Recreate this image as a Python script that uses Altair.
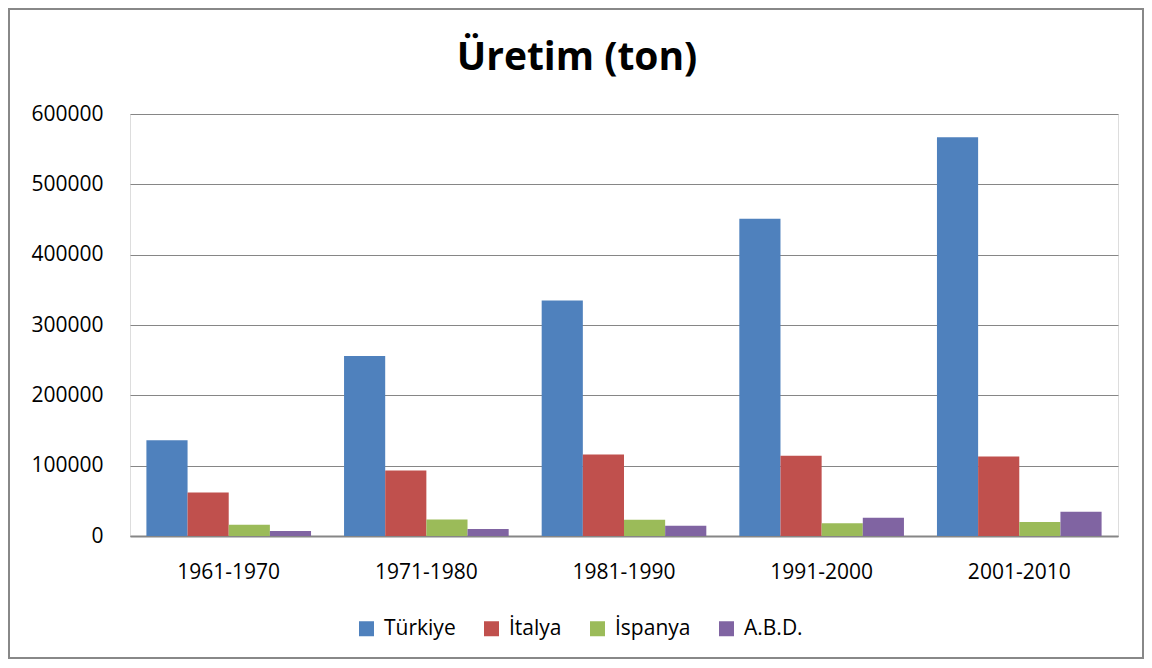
import altair as alt
import pandas as pd

periods = ["1961-1970", "1971-1980", "1981-1990", "1991-2000", "2001-2010"]
series = ["Türkiye", "İtalya", "İspanya", "A.B.D."]
colors = ["#4F81BD", "#C0504D", "#9BBB59", "#8064A2"]

turkiye = [136000, 256000, 335000, 451000, 567000]
italya = [62000, 93000, 116000, 114000, 113000]
ispanya = [16000, 23500, 23000, 18000, 20000]
abd = [7000, 10000, 14500, 26000, 34500]
y_ticks = [0, 100000, 200000, 300000, 400000, 500000, 600000]

rows = []
for i, p in enumerate(periods):
    for s, vals in zip(series, [turkiye, italya, ispanya, abd]):
        rows.append({"period": p, "series": s, "value": vals[i]})
df = pd.DataFrame(rows)

FONT = "Open Sans"
W, H = 988, 422
PL, PT = 122, 106
TOTW, TOTH = 1136, 651

bars = alt.Chart(df).mark_bar().encode(
    x=alt.X(
        "period:N",
        sort=periods,
        scale=alt.Scale(paddingInner=0.167, paddingOuter=0.083),
        axis=alt.Axis(
            title=None, labelAngle=0, labelFont=FONT, labelFontSize=21,
            labelColor="#000000", labelPadding=25, ticks=False,
            domainColor="#868686", domainWidth=2, grid=False,
        ),
    ),
    xOffset=alt.XOffset("series:N", sort=series),
    y=alt.Y(
        "value:Q",
        scale=alt.Scale(domain=[0, 600000], nice=False),
        axis=alt.Axis(
            title=None, values=y_ticks, format="d", grid=True,
            gridColor="#868686", gridWidth=1.2, ticks=False, domain=False,
            labelFont=FONT, labelFontSize=21, labelColor="#000000",
            labelPadding=27,
        ),
    ),
    color=alt.Color(
        "series:N",
        sort=series,
        scale=alt.Scale(domain=series, range=colors),
        legend=alt.Legend(
            title=None, orient="none", direction="horizontal",
            legendX=226, legendY=504, symbolType="square", symbolSize=225,
            symbolStrokeWidth=0, labelFont=FONT, labelFontSize=21,
            labelColor="#000000", labelOffset=7, columnPadding=25,
        ),
    ),
)

border = alt.Chart(alt.Data(values=[{}])).mark_rect(
    fillOpacity=0, stroke="#888888", strokeWidth=2
).encode(
    x=alt.value(-PL + 1),
    x2=alt.value(TOTW - PL - 1),
    y=alt.value(-PT + 1),
    y2=alt.value(TOTH - PT - 1),
)

chart = alt.layer(bars, border).properties(
    width=W,
    height=H,
    title=alt.TitleParams(
        "Üretim (ton)", font=FONT, fontSize=39, fontWeight="bold",
        color="#000000", anchor="middle", frame="group", baseline="alphabetic",
        offset=-101, dx=-47,
    ),
    autosize=alt.AutoSizeParams(type="none"),
    padding={"left": PL, "top": PT, "right": TOTW - PL - W, "bottom": TOTH - PT - H},
).configure_view(stroke="transparent").configure(background="#ffffff")

chart.save("out.html", embed_options={"renderer": "svg", "actions": False})
